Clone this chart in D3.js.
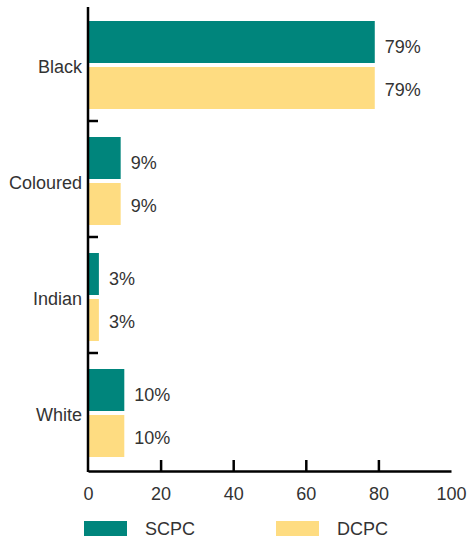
<!DOCTYPE html>
<html><head><meta charset="utf-8">
<script src="https://cdn.jsdelivr.net/npm/d3@7"></script>
<style>body{margin:0;background:#fff}svg{display:block}text{font-family:"Liberation Sans",Arial,sans-serif;fill:#333}</style>
</head><body>
<svg id="chart" width="468" height="543"></svg>
<script>
const categories = ["Black", "Coloured", "Indian", "White"];
const seriesNames = ["SCPC", "DCPC"];
const scpcValues = [79, 9, 3, 10];
const dcpcValues = [79, 9, 3, 10];
const xTicks = [0, 20, 40, 60, 80, 100];
const colors = ["#00857c", "#fedc81"];

const svg = d3.select("#chart");
const fs = 18;
const x = d3.scaleLinear().domain([0, 100]).range([88, 451]);
const yBand = d3.scaleBand().domain(categories).range([5, 469]);
const ySub = d3.scaleBand().domain(seriesNames).range([16, 104]).paddingInner(4/46);
const labelOffset = {SCPC: 4.8, DCPC: 1.5};

const data = categories.map((c, i) => ({cat: c, vals: [
  {s: "SCPC", v: scpcValues[i]}, {s: "DCPC", v: dcpcValues[i]}]}));

const g = svg.selectAll("g.cat").data(data).join("g")
  .attr("class", "cat")
  .attr("transform", d => `translate(0,${yBand(d.cat)})`);

g.selectAll("rect").data(d => d.vals).join("rect")
  .attr("x", x(0))
  .attr("y", d => ySub(d.s))
  .attr("width", d => x(d.v) - x(0))
  .attr("height", ySub.bandwidth())
  .attr("fill", d => colors[seriesNames.indexOf(d.s)]);

g.selectAll("text.val").data(d => d.vals).join("text")
  .attr("class", "val")
  .attr("x", d => x(d.v) + 10)
  .attr("y", d => ySub(d.s) + ySub.bandwidth() / 2 + labelOffset[d.s])
  .attr("dy", "0.35em")
  .style("font-size", fs + "px")
  .text(d => d.v + "%");

g.append("text")
  .attr("x", 82)
  .attr("y", (ySub.range()[0] + ySub.range()[1]) / 2 + 2)
  .attr("dy", "0.35em")
  .attr("text-anchor", "end")
  .style("font-size", fs + "px")
  .text(d => d.cat);

// category separator ticks
svg.selectAll("line.sep").data(categories.slice(1)).join("line")
  .attr("class", "sep")
  .attr("x1", x(0)).attr("x2", x(0) + 10)
  .attr("y1", d => yBand(d)).attr("y2", d => yBand(d))
  .attr("stroke", "#000").attr("stroke-width", 2.5);

// y axis line
svg.append("line")
  .attr("x1", x(0)).attr("x2", x(0))
  .attr("y1", 7).attr("y2", 472)
  .attr("stroke", "#000").attr("stroke-width", 2.5);

// x axis
const xAxis = d3.axisBottom(x).tickValues(xTicks).tickSizeInner(-11).tickSizeOuter(0).tickPadding(16);
const ax = svg.append("g").attr("transform", "translate(0,471)").call(xAxis);
ax.select(".domain").attr("stroke", "#000").attr("stroke-width", 2.5);
ax.selectAll(".tick line").attr("stroke", "#000").attr("stroke-width", 2.5)
  .filter(d => d === 100 || d === 0).remove();
ax.selectAll(".tick text").style("font-size", fs + "px").attr("fill", "#333")
  .style("font-family", "'Liberation Sans', Arial, sans-serif");

// legend
const legendX = [84, 276];
const lg = svg.selectAll("g.leg").data(seriesNames).join("g")
  .attr("class", "leg")
  .attr("transform", (d, i) => `translate(${legendX[i]},521)`);
lg.append("rect").attr("width", 43).attr("height", 15).attr("fill", (d, i) => colors[i]);
lg.append("text").attr("x", 61).attr("y", 7.5).attr("dy", "0.35em")
  .style("font-size", fs + "px").text(d => d);
</script>
</body></html>
